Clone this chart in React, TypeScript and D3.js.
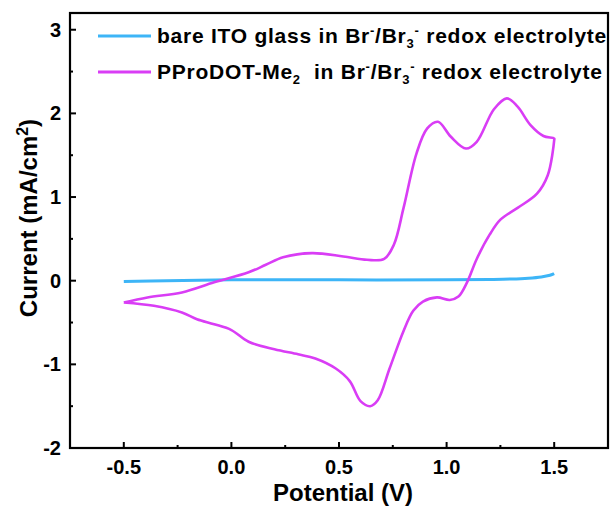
import React from 'react'
import * as d3 from 'd3'

// bare ITO glass, potential (V) vs current (mA/cm2)
const itoPotential = [-0.5, -0.3, 0.0, 0.5, 1.0, 1.2, 1.3, 1.38, 1.44, 1.48, 1.5]
const itoCurrent = [-0.01, 0.0, 0.01, 0.01, 0.01, 0.015, 0.02, 0.03, 0.045, 0.065, 0.085]

// PProDOT-Me2 loop: forward scan then reverse scan
const filmPotential = [
  -0.5, -0.39, -0.23, -0.08, 0.08, 0.16, 0.24, 0.375, 0.52, 0.63, 0.71, 0.755, 0.8, 0.86,
  0.91, 0.96, 1.02, 1.09, 1.14, 1.22, 1.28, 1.33, 1.39, 1.45, 1.5,
  1.5, 1.47, 1.42, 1.33, 1.25, 1.2, 1.14, 1.095, 1.055, 1.015, 0.955, 0.89, 0.845, 0.8,
  0.735, 0.68, 0.645, 0.6, 0.55, 0.485, 0.39, 0.31, 0.2, 0.08, 0.0, -0.08, -0.16, -0.23,
  -0.36, -0.5
]
const filmCurrent = [
  -0.26, -0.2, -0.14, -0.02, 0.1, 0.19, 0.28, 0.33, 0.29, 0.25, 0.26, 0.43, 0.87, 1.52,
  1.82, 1.9, 1.72, 1.58, 1.66, 2.05, 2.18, 2.08, 1.86, 1.73, 1.7,
  1.68, 1.26, 1.04, 0.87, 0.73, 0.55, 0.26, -0.02, -0.19, -0.23, -0.2, -0.25, -0.36, -0.6,
  -1.05, -1.43, -1.5, -1.44, -1.2, -1.05, -0.93, -0.88, -0.82, -0.73, -0.59, -0.52, -0.46,
  -0.38, -0.3, -0.26
]

const xTicks = [-0.5, 0.0, 0.5, 1.0, 1.5]
const xMinor = [-0.25, 0.25, 0.75, 1.25]
const yTicks = [-2, -1, 0, 1, 2, 3]
const yMinor = [-1.5, -0.5, 0.5, 1.5, 2.5]

const itoColor = '#3db5f7'
const filmColor = '#d93df5'
const font = '"Liberation Sans", Arial, sans-serif'

export default function App() {
  const width = 610
  const height = 507
  const left = 70
  const right = 608
  const top = 13
  const bottom = 448

  const x = d3.scaleLinear().domain([-0.75, 1.75]).range([left, right])
  const y = d3.scaleLinear().domain([-2, 3.2]).range([bottom, top])

  const line = d3
    .line<[number, number]>()
    .x(d => x(d[0]))
    .y(d => y(d[1]))
    .curve(d3.curveCatmullRom.alpha(0.5))

  const itoPts = itoPotential.map((p, i) => [p, itoCurrent[i]] as [number, number])
  const filmPts = filmPotential.map((p, i) => [p, filmCurrent[i]] as [number, number])

  const legendStyle = {letterSpacing: '0.75px'}

  return (
    <svg width={width} height={height} style={{position: 'absolute', left: 0, top: 0, background: '#fff'}}>
      <path d={line(itoPts) || ''} fill="none" stroke={itoColor} strokeWidth={3} />
      <path d={line(filmPts) || ''} fill="none" stroke={filmColor} strokeWidth={2.6} />

      {/* frame */}
      <rect x={left} y={top} width={right - left} height={bottom - top} fill="none" stroke="#000" strokeWidth={2.2} />

      {/* x ticks */}
      {xTicks.map(t => (
        <g key={'x' + t}>
          <line x1={x(t)} x2={x(t)} y1={bottom} y2={bottom - 6} stroke="#000" strokeWidth={2} />
          <text x={x(t)} y={bottom + 26} textAnchor="middle" fontFamily={font} fontWeight="bold" fontSize={20}>
            {t.toFixed(1)}
          </text>
        </g>
      ))}
      {xMinor.map(t => (
        <line key={'xm' + t} x1={x(t)} x2={x(t)} y1={bottom} y2={bottom - 3} stroke="#000" strokeWidth={2} />
      ))}

      {/* y ticks */}
      {yTicks.map(t => (
        <g key={'y' + t}>
          <line x1={left} x2={left + 6} y1={y(t)} y2={y(t)} stroke="#000" strokeWidth={2} />
          <text x={left - 9} y={y(t) + 7} textAnchor="end" fontFamily={font} fontWeight="bold" fontSize={20}>
            {t}
          </text>
        </g>
      ))}
      {yMinor.map(t => (
        <line key={'ym' + t} x1={left} x2={left + 3} y1={y(t)} y2={y(t)} stroke="#000" strokeWidth={2} />
      ))}

      {/* axis titles */}
      <text x={(left + right) / 2 + 4} y={501} textAnchor="middle" fontFamily={font} fontWeight="bold" fontSize={24}>
        Potential (V)
      </text>
      <text
        transform={`translate(37,218) rotate(-90)`}
        textAnchor="middle"
        fontFamily={font}
        fontWeight="bold"
        fontSize={24}
      >
        Current (mA/cm<tspan dy={-9} fontSize={16}>2</tspan><tspan dy={9}>)</tspan>
      </text>

      {/* legend */}
      <line x1={98} x2={151} y1={36} y2={36} stroke={itoColor} strokeWidth={3} />
      <text x={157} y={43} fontFamily={font} fontWeight="bold" fontSize={21} style={legendStyle}>
        bare ITO glass in Br<tspan dy={-8} fontSize={13}>-</tspan>
        <tspan dy={8}>/Br</tspan>
        <tspan dy={5} fontSize={13}>3</tspan>
        <tspan dy={-13} fontSize={13}>-</tspan>
        <tspan dy={8}> redox electrolyte</tspan>
      </text>
      <line x1={98} x2={151} y1={72} y2={72} stroke={filmColor} strokeWidth={3} />
      <text x={157} y={79} fontFamily={font} fontWeight="bold" fontSize={21} style={legendStyle}>
        PProDOT-Me<tspan dy={5} fontSize={13}>2</tspan>
        <tspan dy={-5}>{'\u00a0 in Br'}</tspan>
        <tspan dy={-8} fontSize={13}>-</tspan>
        <tspan dy={8}>/Br</tspan>
        <tspan dy={5} fontSize={13}>3</tspan>
        <tspan dy={-13} fontSize={13}>-</tspan>
        <tspan dy={8}> redox electrolyte</tspan>
      </text>
    </svg>
  )
}
